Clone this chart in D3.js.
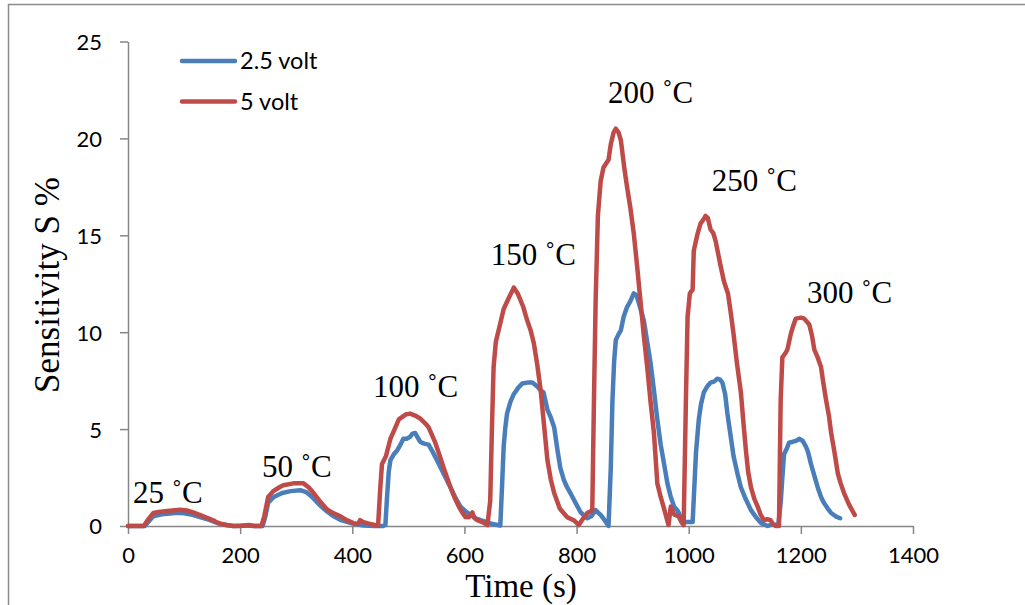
<!DOCTYPE html>
<html>
<head>
<meta charset="utf-8">
<script src="https://cdn.jsdelivr.net/npm/d3@7"></script>
<style>
  body { margin: 0; background: #fff; }
  svg { display: block; }
</style>
</head>
<body>
<svg id="chart" width="1025" height="605"></svg>
<script>
// ---- data ----
const seriesNames = ["2.5 volt", "5 volt"];
const seriesColors = ["#4A7EBB", "#BE4B48"];

const t25 = [0,30,36,45,60,75,88,100,115,130,145,160,175,188,215,225,240,245,250,260,275,290,307,318,330,343,355,367,380,395,405,420,440,455,459,462,465,468,474,480,486,491,497,503,507,512,516,521,528,536,543,551,563,575,584,593,602,611,620,629,640,650,659,664,667,670,673,676,682,688,695,703,712,721,730,736,741,745,748,754,760,766,771,777,783,789,798,807,813,819,826,834,838,843,850,857,861,864,867,870,875,879,884,890,896,902,907,914,920,926,932,938,944,950,956,962,968,974,980,985,991,1000,1007,1010,1013,1018,1022,1027,1033,1039,1045,1051,1056,1060,1065,1069,1075,1080,1087,1093,1100,1111,1120,1129,1141,1150,1155,1160,1164,1167,1170,1175,1179,1186,1192,1197,1203,1209,1213,1218,1224,1230,1236,1241,1248,1254,1262,1270];
const s25 = [0,0,0.2,0.5,0.6,0.65,0.68,0.66,0.58,0.45,0.32,0.15,0.05,0,0.02,0,0,0.5,1.2,1.5,1.7,1.8,1.85,1.75,1.45,1.05,0.75,0.5,0.3,0.18,0.1,0.02,0,0,0.05,1.5,2.8,3.4,3.7,3.9,4.2,4.5,4.5,4.6,4.75,4.8,4.6,4.35,4.25,4.2,3.85,3.4,2.7,2.0,1.45,1.0,0.75,0.57,0.4,0.3,0.2,0.1,0.05,0.02,2.0,4.1,5.1,5.8,6.4,6.8,7.1,7.35,7.4,7.4,7.2,7.0,6.9,6.4,6.0,5.6,5.1,3.9,3.0,2.4,2.0,1.7,1.2,0.72,0.55,0.4,0.5,0.82,0.7,0.57,0.3,0,3.0,6.5,8.5,9.6,9.9,10.1,10.8,11.3,11.6,12.0,11.9,11.2,10.6,9.5,8.4,7.0,5.5,4.2,3.2,2.2,1.5,1.0,0.8,0.5,0.2,0.2,0.2,2.0,3.8,5.5,6.3,6.9,7.2,7.4,7.45,7.6,7.55,7.4,6.8,5.8,4.6,3.6,2.7,2.0,1.5,0.82,0.45,0.15,0,0.1,0.05,0.1,1.2,2.5,3.7,4.0,4.3,4.35,4.4,4.5,4.4,4.1,3.8,3.2,2.6,2.0,1.5,1.2,0.9,0.67,0.5,0.4];

const t5 = [0,28,35,45,55,70,93,105,116,130,141,155,164,178,188,200,215,225,238,243,250,259,270,277,295,313,322,331,343,355,367,379,390,402,410,414,420,430,440,446,450,453,460,468,474,483,495,503,512,521,530,536,542,548,555,563,569,575,582,590,596,602,608,614,618,623,632,641,646,649,652,656,661,670,678,688,695,705,712,718,724,730,736,742,748,754,760,770,783,795,804,812,819,828,831,834,838,843,848,857,861,866,870,875,879,885,890,896,902,908,914,920,926,932,938,944,950,955,964,968,971,974,982,987,991,995,998,1002,1007,1009,1016,1021,1026,1030,1034,1039,1044,1048,1057,1063,1070,1075,1080,1086,1093,1098,1102,1106,1111,1117,1123,1128,1134,1140,1146,1150,1155,1161,1164,1167,1172,1176,1182,1186,1191,1200,1206,1215,1220,1224,1230,1236,1240,1245,1250,1254,1260,1266,1271,1277,1286,1296];
const s5 = [0,0,0.3,0.67,0.72,0.77,0.84,0.8,0.7,0.55,0.42,0.25,0.12,0.04,0,0,0.05,0,0,0.5,1.5,1.8,2.0,2.1,2.2,2.2,2.0,1.7,1.25,0.85,0.65,0.5,0.3,0.15,0.1,0.3,0.2,0.12,0.05,0.02,2.0,3.2,3.6,4.5,4.9,5.5,5.75,5.8,5.7,5.55,5.3,5.1,4.7,4.3,3.7,3.0,2.5,2.0,1.5,1.0,0.7,0.46,0.45,0.7,0.4,0.3,0.2,0.05,1.3,5.0,8.2,9.5,10.1,11.2,11.7,12.3,12.0,11.3,10.6,10.1,9.4,8.3,7.0,5.2,3.4,2.4,1.7,0.9,0.46,0.3,0.05,0.4,0.67,0.8,6.5,11.6,16,17.8,18.5,18.9,19.7,20.3,20.5,20.3,19.9,18.5,17.5,16.4,15.1,13.4,11.6,9.8,8.2,6.4,4.8,2.2,1.5,1.0,0.05,1.0,0.8,0.6,0.5,0.2,0.05,6.5,10.8,12.0,12.2,14.2,15.1,15.6,15.8,16.0,15.9,15.3,15.1,14.7,13.4,12.6,12.0,11.0,9.9,8.4,6.9,5.2,3.9,2.8,2.0,1.4,1.0,0.6,0.3,0.35,0.3,0.1,0,0,6.5,8.7,8.9,9.1,9.9,10.3,10.7,10.75,10.7,10.4,9.8,9.1,8.7,8.2,7.4,6.5,5.7,4.8,3.8,2.7,2.2,1.7,1.1,0.57];

const xTicks = [0,200,400,600,800,1000,1200,1400];
const yTicks = [0,5,10,15,20,25];

const annLabels = ["25 ˚C","50 ˚C","100 ˚C","150 ˚C","200 ˚C","250 ˚C","300 ˚C"];
const annT = [9,239,437,647,856,1041,1211];
const annS = [1.19,2.53,6.66,13.47,21.83,17.28,11.5];

// ---- layout ----
const svg = d3.select("#chart");
const x = d3.scaleLinear().domain([0,1400]).range([128,913]);
const y = d3.scaleLinear().domain([0,25]).range([526,41.5]);
const axisColor = "#868686";
const sans = "Lato, 'Open Sans', sans-serif";
const serif = "'Liberation Serif', 'Times New Roman', serif";

// outer frame
svg.append("rect").attr("x",8.5).attr("y",4.5).attr("width",1100).attr("height",700)
  .attr("fill","none").attr("stroke","#8a8a8a").attr("stroke-width",1.5);

// x axis
const gx = svg.append("g").attr("transform","translate(0,526)")
  .call(d3.axisBottom(x).tickValues(xTicks).tickSize(8).tickSizeOuter(0).tickFormat(d3.format("d")));
gx.select(".domain").attr("stroke",axisColor).attr("stroke-width",1.5);
gx.selectAll(".tick line").attr("stroke",axisColor).attr("stroke-width",1.5);
gx.selectAll(".tick text").attr("font-family",sans).attr("font-size",22).attr("fill","#000")
  .attr("y",0).attr("dy",null).attr("dominant-baseline","auto").attr("transform","translate(0,37)");

// y axis
const gy = svg.append("g").attr("transform","translate(128,0)")
  .call(d3.axisLeft(y).tickValues(yTicks).tickSize(8).tickSizeOuter(0).tickFormat(d3.format("d")));
gy.select(".domain").attr("stroke",axisColor).attr("stroke-width",1.5);
gy.selectAll(".tick line").attr("stroke",axisColor).attr("stroke-width",1.5);
gy.selectAll(".tick text").attr("font-family",sans).attr("font-size",22).attr("fill","#000")
  .attr("x",-26).attr("dy","0.36em");

// lines
const line = d3.line().x(d => x(d[0])).y(d => y(d[1])).curve(d3.curveLinear);
const series = [d3.zip(t25, s25), d3.zip(t5, s5)];
series.forEach((data, i) => {
  svg.append("path").datum(data).attr("d", line)
    .attr("fill","none").attr("stroke",seriesColors[i]).attr("stroke-width",4.5)
    .attr("stroke-linejoin","round").attr("stroke-linecap","round");
});

// annotations
svg.selectAll("text.ann").data(annLabels).enter().append("text").attr("class","ann")
  .attr("x",(d,i)=>x(annT[i])).attr("y",(d,i)=>y(annS[i]))
  .attr("font-family",serif).attr("font-size",31).attr("fill","#000").text(d=>d);

// legend
const legY = [61, 101.5];
seriesNames.forEach((name,i)=>{
  svg.append("line").attr("x1",182).attr("x2",235).attr("y1",legY[i]).attr("y2",legY[i])
    .attr("stroke",seriesColors[i]).attr("stroke-width",4.5).attr("stroke-linecap","round");
  svg.append("text").attr("x",240).attr("y",legY[i]+8).attr("font-family",sans).attr("font-size",23.5)
    .attr("fill","#000").text(name);
});

// axis titles
svg.append("text").attr("x",521).attr("y",597).attr("text-anchor","middle")
  .attr("font-family",serif).attr("font-size",33).attr("fill","#000").text("Time (s)");
svg.append("text").attr("transform","translate(59,285) rotate(-90)").attr("text-anchor","middle")
  .attr("font-family",serif).attr("font-size",35).attr("fill","#000").text("Sensitivity S %");
</script>
</body>
</html>
